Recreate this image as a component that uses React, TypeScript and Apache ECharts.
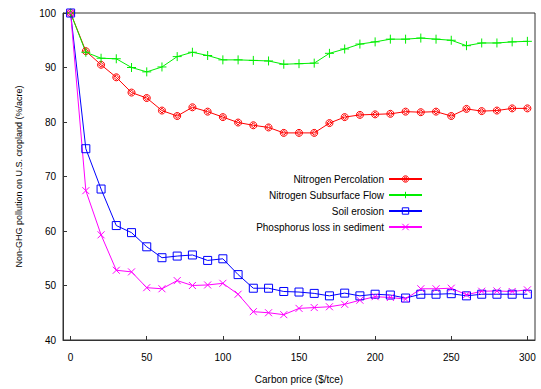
import React, { useEffect, useRef } from "react";
import * as echarts from "echarts";

const carbonPrice = [0,10,20,30,40,50,60,70,80,90,100,110,120,130,140,150,160,170,180,190,200,210,220,230,240,250,260,270,280,290,300];
const nitrogenPercolation = [100,93.0,90.5,88.2,85.4,84.4,82.1,81.1,82.7,81.9,80.9,79.9,79.4,79.0,78.0,78.0,78.0,79.8,80.9,81.3,81.4,81.5,81.9,81.8,81.9,81.1,82.4,82.0,82.1,82.5,82.5];
const nitrogenSubsurface = [100,92.8,91.7,91.6,90.0,89.2,90.1,92.0,92.8,92.2,91.4,91.4,91.3,91.2,90.6,90.7,90.8,92.6,93.4,94.3,94.7,95.2,95.2,95.4,95.2,95.0,94.0,94.5,94.5,94.7,94.8];
const soilErosion = [100,75.1,67.7,61.0,59.7,57.1,55.1,55.4,55.6,54.6,54.9,52.0,49.5,49.5,48.9,48.8,48.55,48.1,48.6,48.1,48.4,48.25,47.7,48.4,48.4,48.5,48.1,48.4,48.4,48.4,48.4];
const phosphorusLoss = [100,67.4,59.3,52.8,52.5,49.6,49.4,50.9,50.0,50.1,50.4,48.4,45.2,45.0,44.65,45.8,45.95,46.1,46.55,47.3,47.95,47.8,47.5,49.4,49.4,49.5,48.3,48.95,49.0,48.9,49.2];
const xTicks = [0,50,100,150,200,250,300];

const seriesNames = ["Nitrogen Percolation","Nitrogen Subsurface Flow","Soil erosion","Phosphorus loss in sediment"];
const seriesData = [nitrogenPercolation, nitrogenSubsurface, soilErosion, phosphorusLoss];
const colors = ["#ff0000","#00ee00","#0000ff","#ff00ff"];
const symbols = [
  "path://M5,0 A5,5 0 1 1 4.99,0 M5,1.5 L8.5,5 L5,8.5 L1.5,5 Z",
  "path://M0,5 L10,5 M5,0 L5,10",
  "path://M0,0 L10,0 L10,10 L0,10 Z",
  "path://M0,0 L10,10 M10,0 L0,10",
];
const symbolSizes = [7, 9, 8, 7];

const FONT = "Liberation Sans, Arial, sans-serif";

export default function App() {
  const ref = useRef<HTMLDivElement>(null);
  useEffect(() => {
    const chart = echarts.init(ref.current!, null, { renderer: "svg" });
    const series = seriesNames.map((name, i) => ({
      name,
      type: "line",
      data: carbonPrice.map((x, j) => [x, seriesData[i][j]]),
      symbol: symbols[i],
      symbolSize: symbolSizes[i],
      showAllSymbol: true,
      lineStyle: { color: colors[i], width: 1 },
      itemStyle: { color: "transparent", borderColor: colors[i], borderWidth: 1 },
      emphasis: { disabled: true },
    }));
    const legends = seriesNames.map((name, i) => ({
      data: [{ name, itemStyle: { color: "transparent", borderColor: colors[i], borderWidth: 1 } }],
      orient: "vertical",
      align: "right",
      right: 118,
      top: 174 + i * 16,
      padding: 0,
      itemWidth: 33,
      itemHeight: 8,
      textStyle: { fontFamily: FONT, fontSize: 10, color: "#000" },
      selectedMode: false,
    }));
    chart.setOption({
      animation: false,
      grid: { left: 63, right: 6, top: 13, bottom: 45, show: true, borderColor: "#333", borderWidth: 1, backgroundColor: "transparent" },
      legend: legends,
      xAxis: {
        type: "value",
        min: -5,
        max: 305,
        name: "Carbon price ($/tce)",
        nameLocation: "middle",
        nameGap: 34,
        nameTextStyle: { fontFamily: FONT, fontSize: 10, color: "#000" },
        axisLine: { show: true, onZero: false, lineStyle: { color: "#333" } },
        axisTick: { show: true, inside: true, length: 4, customValues: xTicks, lineStyle: { color: "#333" } },
        axisLabel: { customValues: xTicks, fontFamily: FONT, fontSize: 10, color: "#000", margin: 12 },
        splitLine: { show: false },
      },
      yAxis: {
        type: "value",
        min: 40,
        max: 100,
        interval: 10,
        name: "Non-GHG pollution on U.S. cropland (%/acre)",
        nameLocation: "middle",
        nameRotate: 90,
        nameGap: 40,
        nameTextStyle: { fontFamily: FONT, fontSize: 9, color: "#000" },
        axisLine: { show: true, onZero: false, lineStyle: { color: "#333" } },
        axisTick: { show: true, inside: true, length: 4, lineStyle: { color: "#333" } },
        axisLabel: { fontFamily: FONT, fontSize: 10, color: "#000", margin: 7 },
        splitLine: { show: false },
      },
      series,
    });
    return () => chart.dispose();
  }, []);
  return <div ref={ref} style={{ width: 541, height: 389, position: "absolute", left: 0, top: 0 }} />;
}
